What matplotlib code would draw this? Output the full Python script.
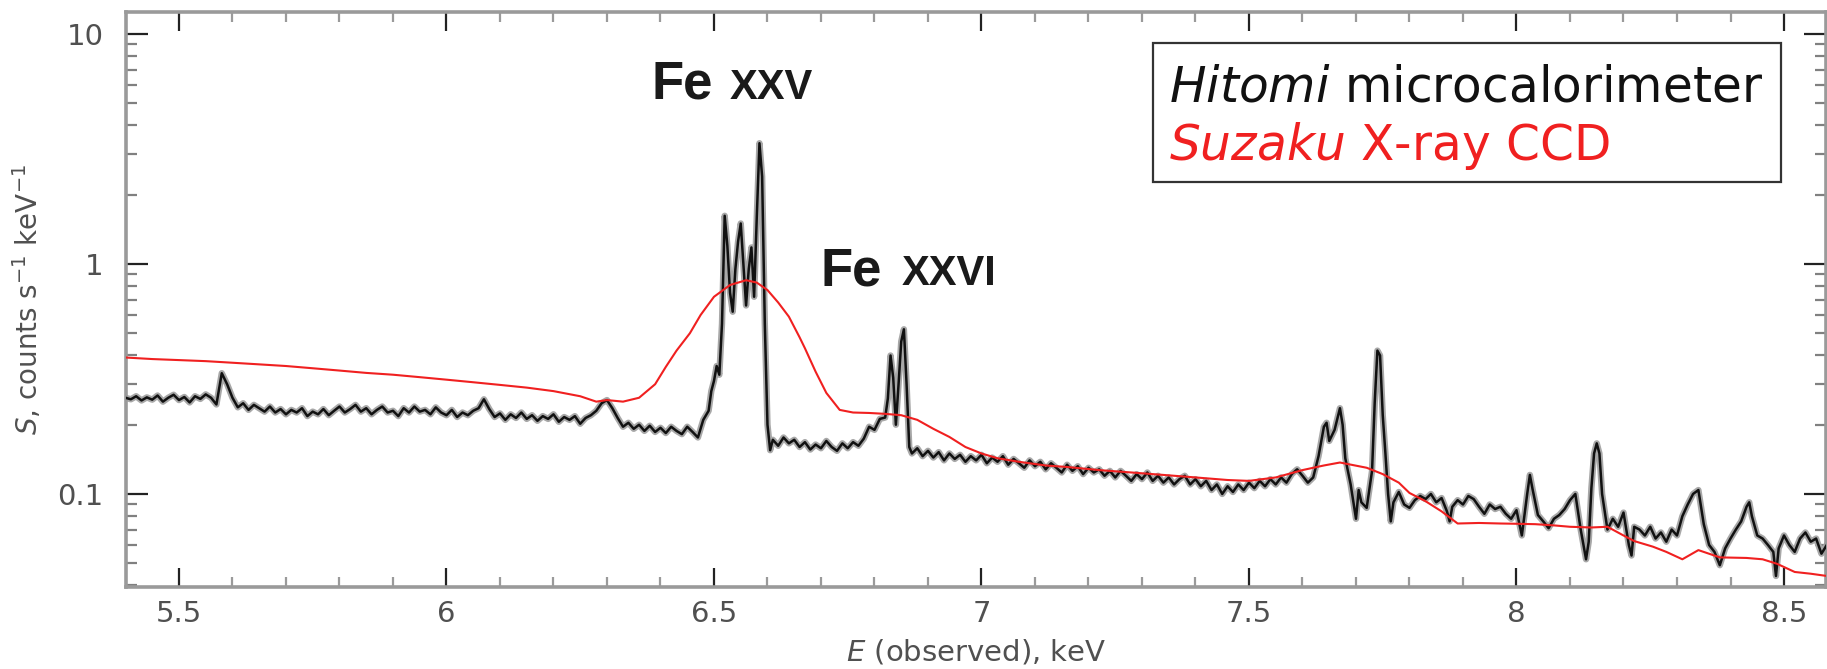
import matplotlib
matplotlib.use('Agg')
import matplotlib.pyplot as plt
from matplotlib.ticker import FixedLocator, MultipleLocator, LogLocator, NullFormatter, FixedFormatter
from matplotlib.patches import Rectangle

# ---------------- data ----------------
hitomi_points = [
    (5.40, .262), (5.41, .258), (5.42, .266), (5.43, .255), (5.44, .263), (5.45, .257),
    (5.46, .268), (5.47, .252), (5.48, .262), (5.49, .270), (5.50, .256), (5.51, .264),
    (5.52, .250), (5.53, .266), (5.54, .259), (5.55, .271), (5.56, .262), (5.57, .245),
    (5.58, .335), (5.59, .300), (5.60, .262), (5.61, .238), (5.62, .248), (5.63, .232),
    (5.64, .244), (5.65, .236), (5.66, .228), (5.67, .240), (5.68, .226), (5.69, .234),
    (5.70, .222), (5.71, .232), (5.72, .226), (5.73, .236), (5.74, .218), (5.75, .228),
    (5.76, .222), (5.77, .234), (5.78, .220), (5.79, .230), (5.80, .240), (5.81, .226),
    (5.82, .234), (5.83, .244), (5.84, .228), (5.85, .236), (5.86, .222), (5.87, .232),
    (5.88, .240), (5.89, .226), (5.90, .230), (5.91, .218), (5.92, .236), (5.93, .226),
    (5.94, .240), (5.95, .228), (5.96, .232), (5.97, .222), (5.98, .238), (5.99, .226),
    (6.00, .220), (6.01, .232), (6.02, .216), (6.03, .226), (6.04, .220), (6.05, .230),
    (6.06, .236), (6.07, .258), (6.08, .234), (6.09, .216), (6.10, .224), (6.11, .210),
    (6.12, .222), (6.13, .214), (6.14, .226), (6.15, .212), (6.16, .220), (6.17, .208),
    (6.18, .218), (6.19, .212), (6.20, .222), (6.21, .206), (6.22, .216), (6.23, .210),
    (6.24, .218), (6.25, .202), (6.26, .214), (6.27, .220), (6.28, .230), (6.29, .248),
    (6.30, .256), (6.31, .236), (6.32, .214), (6.33, .196), (6.34, .204), (6.35, .192),
    (6.36, .200), (6.37, .188), (6.38, .198), (6.39, .186), (6.40, .194), (6.41, .184),
    (6.42, .196), (6.43, .188), (6.44, .182), (6.45, .196), (6.46, .186), (6.47, .176),
    (6.48, .210), (6.49, .230), (6.495, .28), (6.500, .31), (6.505, .36), (6.510, .33),
    (6.515, .55), (6.520, 1.62), (6.525, 1.2), (6.530, .75), (6.535, .62), (6.540, .95),
    (6.545, 1.25), (6.550, 1.50), (6.555, 1.0), (6.560, .66), (6.565, .95), (6.570, 1.18),
    (6.575, .72), (6.580, 1.6), (6.585, 3.35), (6.590, 2.4), (6.595, .55), (6.600, .20),
    (6.605, .155), (6.61, .172), (6.62, .162), (6.63, .176), (6.64, .166), (6.65, .172),
    (6.66, .160), (6.67, .168), (6.68, .156), (6.69, .164), (6.70, .158), (6.71, .170),
    (6.72, .160), (6.73, .154), (6.74, .166), (6.75, .158), (6.76, .168), (6.77, .162),
    (6.78, .174), (6.79, .196), (6.80, .190), (6.81, .212), (6.82, .215), (6.825, .26),
    (6.83, .40), (6.835, .32), (6.84, .20), (6.845, .30), (6.85, .46), (6.855, .52),
    (6.86, .30), (6.865, .16), (6.87, .150), (6.88, .158), (6.89, .146), (6.90, .154),
    (6.91, .144), (6.92, .152), (6.93, .140), (6.94, .150), (6.95, .142), (6.96, .148),
    (6.97, .138), (6.98, .146), (6.99, .140), (7.00, .148), (7.01, .136), (7.02, .144),
    (7.03, .138), (7.04, .146), (7.05, .134), (7.06, .142), (7.07, .136), (7.08, .130),
    (7.09, .140), (7.10, .132), (7.11, .138), (7.12, .128), (7.13, .136), (7.14, .130),
    (7.15, .124), (7.16, .134), (7.17, .126), (7.18, .132), (7.19, .122), (7.20, .130),
    (7.21, .124), (7.22, .128), (7.23, .120), (7.24, .126), (7.25, .118), (7.26, .126),
    (7.27, .120), (7.28, .114), (7.29, .122), (7.30, .116), (7.31, .124), (7.32, .114),
    (7.33, .120), (7.34, .112), (7.35, .118), (7.36, .110), (7.37, .116), (7.38, .120),
    (7.39, .110), (7.40, .116), (7.41, .108), (7.42, .114), (7.43, .104), (7.44, .110),
    (7.45, .100), (7.46, .108), (7.47, .102), (7.48, .110), (7.49, .104), (7.50, .112),
    (7.51, .106), (7.52, .114), (7.53, .108), (7.54, .116), (7.55, .110), (7.56, .118),
    (7.57, .112), (7.58, .122), (7.59, .128), (7.60, .120), (7.61, .112), (7.62, .118),
    (7.63, .146), (7.64, .196), (7.645, .204), (7.65, .170), (7.66, .190), (7.67, .236),
    (7.675, .20), (7.68, .143), (7.69, .110), (7.70, .078), (7.705, .104), (7.71, .092),
    (7.72, .087), (7.73, .126), (7.735, .25), (7.74, .42), (7.745, .40), (7.75, .22),
    (7.755, .150), (7.76, .100), (7.765, .076), (7.77, .092), (7.78, .102), (7.79, .090),
    (7.80, .087), (7.81, .094), (7.82, .098), (7.83, .095), (7.84, .100), (7.85, .092),
    (7.86, .096), (7.87, .084), (7.875, .076), (7.88, .088), (7.89, .094), (7.90, .090),
    (7.91, .098), (7.92, .095), (7.93, .088), (7.94, .082), (7.95, .090), (7.96, .086),
    (7.97, .088), (7.98, .082), (7.99, .078), (8.00, .085), (8.01, .066), (8.02, .100),
    (8.025, .121), (8.03, .105), (8.04, .081), (8.05, .076), (8.06, .071), (8.07, .078),
    (8.08, .081), (8.09, .086), (8.10, .094), (8.11, .100), (8.12, .070), (8.13, .052),
    (8.135, .062), (8.14, .106), (8.145, .150), (8.15, .166), (8.155, .150), (8.16, .100),
    (8.17, .070), (8.18, .078), (8.19, .072), (8.20, .083), (8.21, .060), (8.215, .054),
    (8.22, .072), (8.23, .070), (8.24, .066), (8.25, .072), (8.26, .064), (8.27, .068),
    (8.28, .062), (8.29, .070), (8.30, .066), (8.31, .080), (8.32, .090), (8.33, .100),
    (8.34, .104), (8.35, .074), (8.36, .060), (8.37, .056), (8.38, .049), (8.39, .058),
    (8.40, .064), (8.41, .070), (8.42, .076), (8.43, .088), (8.435, .092), (8.44, .080),
    (8.45, .066), (8.46, .064), (8.47, .060), (8.48, .056), (8.485, .044), (8.49, .058),
    (8.50, .066), (8.51, .060), (8.52, .056), (8.53, .064), (8.54, .068), (8.55, .062),
    (8.56, .064), (8.57, .055), (8.58, .060),
]
hitomi_energy = [p[0] for p in hitomi_points]
hitomi_flux = [p[1] for p in hitomi_points]

suzaku_energy = [
    5.40, 5.45, 5.50, 5.55, 5.60, 5.65, 5.70, 5.75, 5.80, 5.85, 5.90, 5.95, 6.00, 6.05,
    6.10, 6.15, 6.20, 6.25, 6.28, 6.30, 6.33, 6.36, 6.39, 6.41, 6.43, 6.455, 6.475, 6.50,
    6.53, 6.56, 6.58, 6.60, 6.62, 6.64, 6.66, 6.67, 6.69, 6.71, 6.735, 6.76, 6.79, 6.82,
    6.85, 6.88, 6.91, 6.94, 6.97, 7.00, 7.03, 7.07, 7.12, 7.16, 7.22, 7.28, 7.34, 7.40,
    7.46, 7.50, 7.55, 7.60, 7.64, 7.67, 7.72, 7.75, 7.78, 7.80, 7.83, 7.86, 7.89, 7.93,
    7.97, 8.00, 8.035, 8.07, 8.10, 8.14, 8.17, 8.20, 8.22, 8.255, 8.28, 8.31, 8.34, 8.38,
    8.43, 8.46, 8.487, 8.52, 8.55, 8.58,
]
suzaku_flux = [
    .392, .386, .382, .378, .372, .366, .360, .352, .344, .336, .330, .322, .314, .306,
    .298, .290, .280, .266, .252, .256, .252, .262, .300, .357, .420, .500, .600, .720,
    .810, .850, .830, .770, .680, .590, .480, .430, .340, .275, .232, .226, .225, .223,
    .220, .210, .192, .177, .160, .150, .143, .138, .133, .131, .127, .124, .121, .118,
    .115, .114, .118, .127, .133, .137, .130, .122, .112, .101, .093, .084, .0744, .0748,
    .0744, .0742, .0739, .0730, .0720, .0715, .0720, .0660, .0624, .0590, .0560, .0520,
    .0570, .0530, .0527, .0520, .0497, .0458, .0450, .0440,
]

x_ticks = [5.5, 6, 6.5, 7, 7.5, 8, 8.5]
x_tick_labels = ['5.5', '6', '6.5', '7', '7.5', '8', '8.5']
y_ticks = [0.1, 1, 10]
y_tick_labels = ['0.1', '1', '10']

legend_lines = ['Hitomi', 'Suzaku']
# ----------------------------------------------------------------

fig = plt.figure(figsize=(18.27, 6.69), dpi=100)
ax = fig.add_axes([126 / 1827, 82 / 669, 1700 / 1827, 575 / 669])

ax.plot(hitomi_energy, hitomi_flux, color='#a8a8a8', lw=4.6, solid_joinstyle='round', zorder=2)
ax.plot(hitomi_energy, hitomi_flux, color='#111111', lw=1.8, zorder=3)
ax.plot(suzaku_energy, suzaku_flux, color='#f02020', lw=1.5, zorder=4)

ax.set_yscale('log')
ax.set_xlim(5.401, 8.5785)
ax.set_ylim(0.0394, 12.46)

ax.xaxis.set_major_locator(FixedLocator(x_ticks))
ax.xaxis.set_major_formatter(FixedFormatter(x_tick_labels))
ax.xaxis.set_minor_locator(MultipleLocator(0.1))
ax.yaxis.set_major_locator(FixedLocator(y_ticks))
ax.yaxis.set_major_formatter(FixedFormatter(y_tick_labels))
ax.yaxis.set_minor_locator(LogLocator(base=10, subs=[2, 3, 4, 5, 6, 7, 8, 9]))
ax.yaxis.set_minor_formatter(NullFormatter())

ax.tick_params(which='both', direction='in', top=True, right=True)
ax.tick_params(axis='x', which='major', length=13.5, width=1.6, color='#222222',
               pad=9, labelsize=21, labelcolor='#505050')
ax.tick_params(axis='x', which='minor', length=7, width=1.6, color='#9a9a9a')
ax.tick_params(axis='y', which='major', length=16, width=1.6, color='#222222',
               pad=16, labelsize=21, labelcolor='#505050')
ax.tick_params(axis='y', which='minor', length=8, width=1.6, color='#808080')

for s in ax.spines.values():
    s.set_color('#9a9a9a')
    s.set_linewidth(2.6)

ax.set_xlabel(r'$E$ (observed), keV', fontsize=21, color='#505050')
ax.xaxis.set_label_coords(0.5, (587 - 637) / 575)
ax.xaxis.label.set_va('top')
ax.set_ylabel(r'$S$, counts s$^{-1}$ keV$^{-1}$', fontsize=20, color='#505050')
ax.yaxis.set_label_coords((44 - 126) / 1700, 0.5)

# line labels
lab_font = dict(family='Liberation Sans', weight='bold', color='#1a1a1a', va='baseline', ha='left')
ax.text(6.384, 5.22, 'Fe', fontsize=38, **lab_font)
ax.text(6.530, 5.22, 'XXV', fontsize=30, **lab_font)
ax.text(6.700, 0.81, 'Fe', fontsize=38, **lab_font)
ax.text(6.850, 0.81, 'XXVI', fontsize=30, **lab_font)

# legend box
ax.add_patch(Rectangle((0.6041, 0.7043), 0.9735 - 0.6041, 0.9461 - 0.7043,
                       transform=ax.transAxes, fill=True, facecolor='white',
                       edgecolor='#333333', lw=1.6, zorder=6))
ax.text(0.6135, 0.8435, r'$\mathit{' + legend_lines[0] + r'}$ microcalorimeter',
        transform=ax.transAxes, fontsize=35, color='#111111', va='baseline', ha='left', zorder=7)
ax.text(0.6135, 0.7426, r'$\mathit{' + legend_lines[1] + r'}$ X-ray CCD',
        transform=ax.transAxes, fontsize=35, color='#f02020', va='baseline', ha='left', zorder=7)

fig.savefig('out.png', dpi=100)
